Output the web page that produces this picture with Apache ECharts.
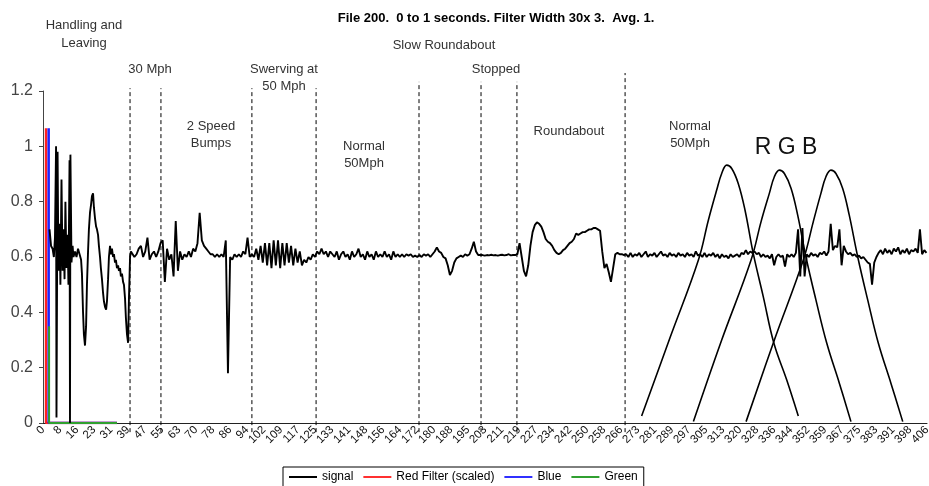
<!DOCTYPE html>
<html>
<head>
<meta charset="utf-8">
<title>File 200</title>
<script src="https://cdn.jsdelivr.net/npm/echarts@6/dist/echarts.min.js"></script>
<style>
    html, body { margin: 0; padding: 0; background: #fff; }
    #chart { width: 929px; height: 486px; }
</style>
</head>
<body>
<div id="chart"></div>
<script>
// x tick labels (every 20th sample, sample = 400/1024 units)
var xTickLabels = ['0', '8', '16', '23', '31', '39', '47', '55', '63', '70', '78', '86', '94', '102', '109', '117', '125', '133', '141', '148',
    '156', '164', '172', '180', '188', '195', '203', '211', '219', '227', '234', '242', '250', '258', '266', '273', '281', '289', '297', '305',
    '313', '320', '328', '336', '344', '352', '359', '367', '375', '383', '391', '398', '406'];
var xStep = 7.8125;

// signal: messy start as [x, y] pairs, then one value per unit from signalStart
var signalHead = [
    [3.0, 0.70], [3.7, 0.64], [4.4, 0.63], [5.0, 0.60], [5.5, 0.67], [6.0, 1.00], [6.2, 0.02], [6.7, 0.98], [7.1, 0.55], [7.6, 0.72],
    [8.0, 0.50], [8.5, 0.88], [9.0, 0.55], [9.4, 0.70], [9.9, 0.52], [10.3, 0.80], [10.8, 0.56], [11.3, 0.68], [11.7, 0.50], [12.2, 0.95],
    [12.4, 0.0], [12.6, 0.97], [13.1, 0.58], [13.6, 0.64], [14.0, 0.60], [14.7, 0.62], [15.4, 0.60], [16.1, 0.63], [16.8, 0.61], [17.5, 0.59],
    [17.9, 0.54], [18.4, 0.40], [18.8, 0.32], [19.3, 0.28], [19.8, 0.35], [20.2, 0.50], [20.7, 0.62], [21.1, 0.70], [21.6, 0.76], [22.1, 0.79],
    [22.5, 0.82], [23.0, 0.83], [23.4, 0.78], [23.9, 0.74], [24.4, 0.71], [24.8, 0.70], [25.3, 0.68], [25.7, 0.64], [26.2, 0.60], [26.6, 0.56],
    [27.1, 0.52], [27.6, 0.47], [28.0, 0.44], [28.5, 0.42], [29.0, 0.41], [29.4, 0.44], [29.9, 0.52], [30.3, 0.60], [30.8, 0.64], [31.2, 0.61],
    [31.7, 0.63], [32.2, 0.60], [32.6, 0.61], [33.1, 0.58], [33.5, 0.59], [34.0, 0.56], [34.5, 0.57], [34.9, 0.55], [35.4, 0.56], [35.8, 0.53],
    [36.3, 0.54], [36.8, 0.51], [37.2, 0.50], [37.7, 0.45], [38.1, 0.38], [38.6, 0.32], [39.1, 0.29], [39.5, 0.45], [40.0, 0.60], [40.4, 0.62]
];
var signalStart = 41;
var signalBody = [
    0.62, 0.60, 0.61, 0.63, 0.64, 0.60, 0.62, 0.67, 0.59, 0.61,
    0.62, 0.60, 0.62, 0.65, 0.66, 0.51, 0.63, 0.59, 0.61, 0.53,
    0.73, 0.55, 0.62, 0.59, 0.61, 0.60, 0.62, 0.60, 0.63, 0.62,
    0.65, 0.76, 0.66, 0.64, 0.63, 0.62, 0.61, 0.61, 0.60, 0.61,
    0.60, 0.61, 0.60, 0.66, 0.18, 0.60, 0.59, 0.61, 0.60, 0.61,
    0.60, 0.62, 0.61, 0.67, 0.60, 0.61, 0.60, 0.63, 0.59, 0.64,
    0.58, 0.65, 0.57, 0.65, 0.56, 0.66, 0.57, 0.66, 0.56, 0.65,
    0.57, 0.65, 0.58, 0.64, 0.57, 0.63, 0.58, 0.62, 0.57, 0.59,
    0.58, 0.60, 0.59, 0.61, 0.60, 0.62, 0.61, 0.63, 0.61, 0.62,
    0.60, 0.62, 0.61, 0.60, 0.62, 0.59, 0.61, 0.62, 0.60, 0.61,
    0.59, 0.62, 0.60, 0.61, 0.63, 0.60, 0.61, 0.59, 0.62, 0.60,
    0.61, 0.59, 0.62, 0.60, 0.61, 0.60, 0.62, 0.60, 0.61, 0.59,
    0.62, 0.60, 0.61, 0.60, 0.61, 0.60, 0.61, 0.605, 0.61, 0.60,
    0.605, 0.60, 0.607, 0.60, 0.61, 0.605, 0.61, 0.60, 0.61, 0.62,
    0.635, 0.62, 0.615, 0.60, 0.595, 0.57, 0.535, 0.55, 0.58, 0.595,
    0.60, 0.605, 0.60, 0.61, 0.605, 0.61, 0.63, 0.655, 0.62, 0.607,
    0.607, 0.607, 0.605, 0.607, 0.606, 0.608, 0.606, 0.607, 0.605, 0.607,
    0.608, 0.606, 0.607, 0.61, 0.606, 0.607, 0.607, 0.61, 0.65, 0.60,
    0.55, 0.53, 0.57, 0.64, 0.69, 0.715, 0.725, 0.72, 0.71, 0.69,
    0.665, 0.655, 0.65, 0.64, 0.625, 0.615, 0.61, 0.615, 0.625, 0.63,
    0.64, 0.65, 0.655, 0.665, 0.685, 0.68, 0.685, 0.69, 0.69, 0.695,
    0.70, 0.70, 0.705, 0.705, 0.70, 0.695, 0.62, 0.56, 0.575, 0.545,
    0.51, 0.56, 0.61, 0.615, 0.61, 0.61, 0.607, 0.61, 0.60, 0.615,
    0.60, 0.61, 0.605, 0.615, 0.60, 0.61, 0.62, 0.60, 0.61, 0.605,
    0.615, 0.60, 0.61, 0.62, 0.605, 0.61, 0.60, 0.615, 0.605, 0.61,
    0.60, 0.615, 0.605, 0.61, 0.60, 0.615, 0.605, 0.61, 0.60, 0.62,
    0.605, 0.61, 0.60, 0.615, 0.60, 0.61, 0.605, 0.615, 0.60, 0.61,
    0.595, 0.61, 0.60, 0.605, 0.595, 0.61, 0.60, 0.605, 0.61, 0.60,
    0.615, 0.61, 0.625, 0.61, 0.62, 0.615, 0.62, 0.61, 0.615, 0.60,
    0.61, 0.60, 0.605, 0.595, 0.61, 0.57, 0.60, 0.61, 0.60, 0.605,
    0.565, 0.61, 0.60, 0.61, 0.60, 0.615, 0.70, 0.53, 0.705, 0.53,
    0.61, 0.60, 0.615, 0.605, 0.61, 0.60, 0.615, 0.61, 0.62, 0.605,
    0.62, 0.72, 0.625, 0.64, 0.635, 0.70, 0.57, 0.64, 0.62, 0.61,
    0.615, 0.605, 0.61, 0.60, 0.605, 0.595, 0.60, 0.59, 0.58, 0.575,
    0.50, 0.58, 0.60, 0.615, 0.625, 0.61, 0.63, 0.615, 0.625, 0.61,
    0.63, 0.62, 0.635, 0.61, 0.625, 0.615, 0.63, 0.61, 0.625, 0.62,
    0.63, 0.615, 0.70, 0.61, 0.625, 0.615
];

// filters near the start
var redFilter = [[1.4, 1.065], [1.4, 0], [34, 0]];
var blueFilter = [[2.6, 1.065], [2.6, 0], [34, 0]];
var greenFilter = [[2.8, 0.35], [2.8, 0], [34, 0]];

// R G B response curves
var curveR = [[275.1, 0.025], [288.1, 0.307], [301.2, 0.589], [305.8, 0.734], [309.6, 0.842], [311.9, 0.902], [314.2, 0.932], [316.5, 0.920],
    [319.5, 0.866], [322.6, 0.770], [326.4, 0.613], [331.0, 0.457], [335.9, 0.288], [341.8, 0.155], [347.1, 0.025]];
var curveG = [[298.9, 0.005], [311.9, 0.300], [325.4, 0.589], [330.0, 0.728], [333.8, 0.830], [336.1, 0.890], [338.4, 0.914], [340.7, 0.902],
    [343.8, 0.848], [346.8, 0.752], [350.6, 0.601], [355.2, 0.445], [360.2, 0.288], [366.0, 0.143], [371.3, 0.005]];
var curveB = [[323.1, 0.005], [336.1, 0.300], [349.4, 0.589], [354.0, 0.728], [357.5, 0.830], [359.8, 0.890], [362.1, 0.914], [364.4, 0.902],
    [367.5, 0.848], [370.5, 0.752], [374.4, 0.601], [379.0, 0.445], [383.9, 0.288], [389.7, 0.143], [395.1, 0.005]];

// section dividers
var dividerX = [40, 54.2, 96, 125.5, 172.8, 201.3, 217.8, 267.5];
var dividerTop = [1.21, 1.21, 1.21, 1.21, 1.233, 1.233, 1.233, 1.265];
var dividerBottom = -0.033;

var FONT = '"Liberation Sans", Arial, sans-serif';

function chartFile200(id) {
    var myChart = echarts.init(document.getElementById(id));

    var signalData = signalHead.concat(signalBody.map(function (v, i) {
        return [signalStart + i, v];
    }));

    function txt(text, x, y, size, extra) {
        var style = {
            text: text,
            font: (extra && extra.bold ? 'bold ' : '') + size + 'px ' + FONT,
            fill: (extra && extra.fill) || '#333',
            align: 'center', textAlign: 'center',
            verticalAlign: 'middle', textVerticalAlign: 'middle',
            lineHeight: (extra && extra.lh) || 17
        };
        return { type: 'text', x: x, y: y, silent: true, style: style };
    }

    var series = [
        {
            name: 'signal',
            type: 'line',
            data: signalData,
            symbol: 'none',
            sampling: false,
            itemStyle: { color: '#000' },
            lineStyle: { color: '#000', width: 1.9 },
            z: 4
        },
        {
            name: 'Red Filter (scaled)',
            type: 'line',
            data: redFilter,
            symbol: 'none',
            itemStyle: { color: '#ff3030' },
            lineStyle: { color: '#ff2020', width: 2.5 },
            z: 3
        },
        {
            name: 'Blue',
            type: 'line',
            data: blueFilter,
            symbol: 'none',
            itemStyle: { color: '#3030ff' },
            lineStyle: { color: '#2020ff', width: 2.5 },
            z: 3
        },
        {
            name: 'Green',
            type: 'line',
            data: greenFilter,
            symbol: 'none',
            itemStyle: { color: '#30a030' },
            lineStyle: { color: '#30a030', width: 2 },
            z: 3
        }
    ];

    [curveR, curveG, curveB].forEach(function (c) {
        series.push({
            name: 'curve',
            type: 'line',
            data: c,
            symbol: 'none',
            smooth: 0.4,
            silent: true,
            lineStyle: { color: '#000', width: 1.6 },
            z: 2
        });
    });

    dividerX.forEach(function (x, i) {
        series.push({
            name: 'divider',
            type: 'line',
            data: [[x, dividerBottom], [x, dividerTop[i]]],
            symbol: 'none',
            clip: false,
            silent: true,
            lineStyle: { color: '#000', width: 1, type: [4, 3] },
            z: 1
        });
    });

    var option = {
        animation: false,
        backgroundColor: '#fff',
        grid: {
            left: 43,
            right: 2,
            top: 91,
            bottom: 63,
            outerBoundsMode: 'none'
        },
        legend: {
            data: ['signal', 'Red Filter (scaled)', 'Blue', 'Green'],
            left: 283,
            top: 467,
            icon: 'rect',
            itemWidth: 28,
            itemHeight: 2,
            itemGap: 10,
            padding: [4, 6],
            borderColor: '#000',
            borderWidth: 1,
            borderRadius: 0,
            textStyle: { fontSize: 12, color: '#000', fontFamily: FONT }
        },
        xAxis: {
            type: 'value',
            min: 0,
            max: xStep * (xTickLabels.length - 1),
            interval: xStep,
            axisLine: { show: true, onZero: false, lineStyle: { color: '#222', width: 1 } },
            axisTick: { show: false },
            splitLine: { show: false },
            axisLabel: {
                rotate: 45,
                margin: 5,
                fontSize: 11.5,
                color: '#111',
                fontFamily: FONT,
                formatter: function (v) {
                    return xTickLabels[Math.round(v / xStep)];
                }
            }
        },
        yAxis: {
            type: 'value',
            min: 0,
            max: 1.2,
            interval: 0.2,
            axisLine: { show: true, lineStyle: { color: '#444', width: 1 } },
            axisTick: { show: true, length: 4, lineStyle: { color: '#444' } },
            splitLine: { show: false },
            axisLabel: { fontSize: 16, color: '#444', margin: 10, fontFamily: FONT }
        },
        graphic: [
            txt('File 200.  0 to 1 seconds. Filter Width 30x 3.  Avg. 1.', 496, 18, 13, { bold: true, fill: '#000' }),
            txt('Handling and\nLeaving', 84, 34, 13, { lh: 18 }),
            txt('30 Mph', 150, 69, 13),
            txt('Swerving at\n50 Mph', 284, 77.5, 13),
            txt('2 Speed\nBumps', 211, 134.5, 13),
            txt('Slow Roundabout', 444, 45, 13),
            txt('Stopped', 496, 69, 13),
            txt('Roundabout', 569, 131, 13),
            txt('Normal\n50Mph', 364, 154.5, 13),
            txt('Normal\n50Mph', 690, 134.5, 13),
            txt('R G B', 786, 148, 23, { fill: '#111' })
        ],
        series: series
    };

    myChart.setOption(option);
    return myChart;
}

var chartInit = chartFile200('chart');
window.addEventListener('resize', function () {
    chartInit.resize();
});
</script>
</body>
</html>
